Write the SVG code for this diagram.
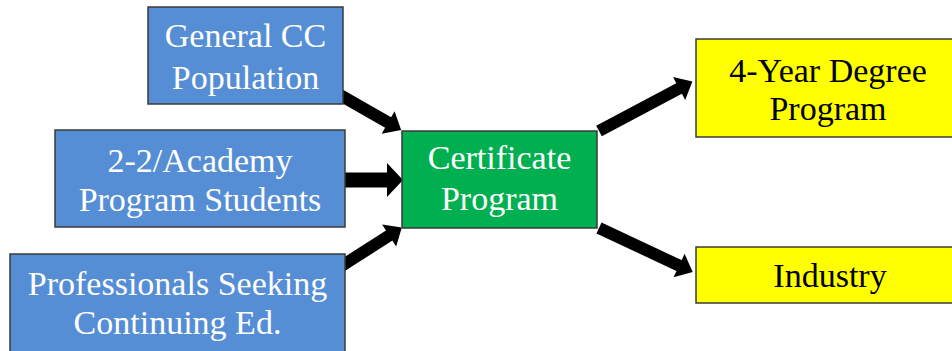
<svg xmlns="http://www.w3.org/2000/svg" width="952" height="351" viewBox="0 0 952 351">
<defs>
<marker id="head" markerUnits="userSpaceOnUse" markerWidth="40" markerHeight="40" viewBox="-2 -20 24 40" refX="1" refY="0" orient="auto">
<path d="M0,-13 L15,0 L0,13 z" fill="#000"/>
</marker>
<marker id="headBig" markerUnits="userSpaceOnUse" markerWidth="40" markerHeight="40" viewBox="-2 -20 24 40" refX="1" refY="0" orient="auto">
<path d="M0,-17 L16,0 L0,17 z" fill="#000"/>
</marker>
</defs>
<rect width="952" height="351" fill="#ffffff"/>
<g id="connectors" stroke="#000" stroke-width="12">
<line x1="340" y1="95" x2="389" y2="123" marker-end="url(#head)"/>
<line x1="343" y1="180" x2="388" y2="180" stroke-width="15" marker-end="url(#headBig)"/>
<line x1="340" y1="267" x2="390" y2="235" marker-end="url(#head)"/>
<line x1="599" y1="131" x2="680" y2="88" marker-end="url(#head)"/>
<line x1="599" y1="228" x2="680" y2="266" marker-end="url(#head)"/>
</g>
<g id="general-cc">
<rect x="148" y="7" width="195" height="97" fill="#558ED5" stroke="#3a3a3a" stroke-width="1.5"/>
<text x="245.5" y="47" font-family="Liberation Serif" font-size="34" text-anchor="middle" fill="#fff">General CC</text>
<text x="245.5" y="89" font-family="Liberation Serif" font-size="34" text-anchor="middle" fill="#fff">Population</text>
</g>
<g id="academy">
<rect x="55" y="130" width="290" height="97" fill="#558ED5" stroke="#3a3a3a" stroke-width="1.5"/>
<text x="200" y="172" font-family="Liberation Serif" font-size="34" text-anchor="middle" fill="#fff">2-2/Academy</text>
<text x="200" y="211" font-family="Liberation Serif" font-size="34" text-anchor="middle" fill="#fff">Program Students</text>
</g>
<g id="professionals">
<rect x="10" y="254" width="335" height="110" fill="#558ED5" stroke="#3a3a3a" stroke-width="1.5"/>
<text x="177.5" y="295" font-family="Liberation Serif" font-size="34" text-anchor="middle" fill="#fff">Professionals Seeking</text>
<text x="177.5" y="334" font-family="Liberation Serif" font-size="34" text-anchor="middle" fill="#fff">Continuing Ed.</text>
</g>
<g id="certificate">
<rect x="402" y="131" width="195" height="97" fill="#00B050" stroke="#3a3a3a" stroke-width="1.5"/>
<text x="499.5" y="169" font-family="Liberation Serif" font-size="34" text-anchor="middle" fill="#fff">Certificate</text>
<text x="499.5" y="210" font-family="Liberation Serif" font-size="34" text-anchor="middle" fill="#fff">Program</text>
</g>
<g id="four-year">
<rect x="696" y="39" width="270" height="98" fill="#FFFF00" stroke="#3a3a3a" stroke-width="1.5"/>
<text x="828" y="82" font-family="Liberation Serif" font-size="34" text-anchor="middle" fill="#000">4-Year Degree</text>
<text x="828" y="120" font-family="Liberation Serif" font-size="34" text-anchor="middle" fill="#000">Program</text>
</g>
<g id="industry">
<rect x="696" y="247" width="270" height="56" fill="#FFFF00" stroke="#3a3a3a" stroke-width="1.5"/>
<text x="830" y="287" font-family="Liberation Serif" font-size="34" text-anchor="middle" fill="#000">Industry</text>
</g>
</svg>
